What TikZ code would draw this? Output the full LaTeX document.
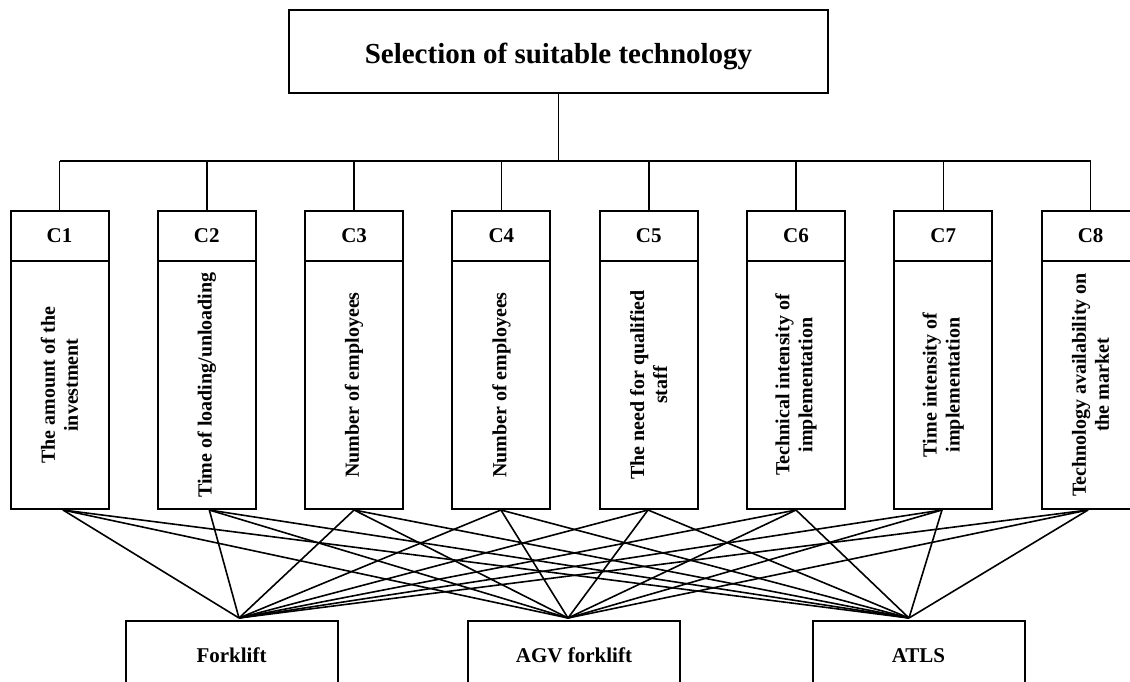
\documentclass[tikz,border=0pt]{standalone}
\usepackage{fontspec}
\setmainfont{Liberation Serif}
\begin{document}
\begin{tikzpicture}[x=1pt,y=-1pt,
  box/.style={draw, line width=2pt, inner sep=0pt},
  titlebox/.style={box, minimum width=539pt, minimum height=83pt, text height=23pt, text depth=0pt, font=\fontsize{29}{32}\selectfont\bfseries},
  hdr/.style={box, minimum width=98pt, minimum height=50pt, font=\fontsize{21}{24}\selectfont\bfseries},
  body/.style={box, rotate=90, minimum width=248pt, minimum height=98pt, align=center, font=\fontsize{20}{23}\selectfont\bfseries},
  alt/.style={box, minimum width=212pt, minimum height=69pt, font=\fontsize{21}{24}\selectfont\bfseries},
  link/.style={line width=1.6pt}]
\useasboundingbox (0,0) rectangle (1130,681);
\fill[white] (0,0) rectangle (1130,681);
\clip (0,0) rectangle (1130,681);

\node[titlebox] (title) at (558.5,51.5) {Selection of suitable technology};
\coordinate (busy) at (0,161);

\foreach \i/\x/\t in {
  1/59.5/{The amount of the\\investment},
  2/206.8/{Time of loading/unloading},
  3/354.1/{Number of employees},
  4/501.4/{Number of employees},
  5/648.7/{The need for qualified\\staff},
  6/796/{Technical intensity of\\implementation},
  7/943.3/{Time intensity of\\implementation},
  8/1090.6/{Technology availability on\\the market}} {
  \node[hdr] (h\i) at (\x,236) {C\i};
  \node[body] (b\i) at (\x,385) {\t};
  \draw[link] (h\i.north) -- (h\i.north |- busy);
}
\draw[link] (title.south) -- (title.south |- busy);
\draw[link] (h1.north |- busy) -- (h8.north |- busy);

\node[alt] (f) at (231.5,655.5) {Forklift};
\node[alt] (agv) at (574,655.5) {AGV forklift};
\node[alt] (atls) at (918.5,655.5) {ATLS};
\coordinate (af) at ([xshift=7.5pt,yshift=2pt]f.north);
\coordinate (aagv) at ([xshift=-6pt,yshift=2pt]agv.north);
\coordinate (aatls) at ([xshift=-9.5pt,yshift=2pt]atls.north);

\foreach \i/\dx in {1/3.5,2/2.5,3/0,4/-0.5,5/-0.7,6/0,7/-1.3,8/-2.6} {
  \coordinate (cb\i) at ([xshift=\dx pt]b\i.west);
  \foreach \a in {af,aagv,aatls} {
    \draw[link] (cb\i) -- (\a);
  }
}
\end{tikzpicture}
\end{document}
